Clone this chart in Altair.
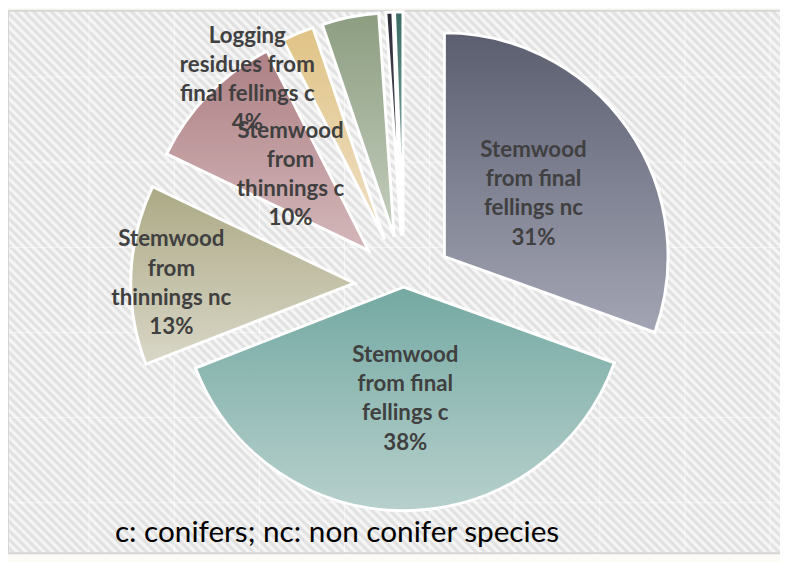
import altair as alt
import pandas as pd

# ---------------- data ----------------
categories = [
    "Stemwood from final fellings nc",
    "Stemwood from final fellings c",
    "Stemwood from thinnings nc",
    "Stemwood from thinnings c",
    "Logging residues from final fellings c",
    "Other A",
    "Other B",
    "Other C",
]
values = [30.5, 38.6, 13.0, 10.4, 2.3, 4.1, 0.5, 0.6]
label_texts = [
    "Stemwood\nfrom final\nfellings nc\n31%",
    "Stemwood\nfrom final\nfellings c\n38%",
    "Stemwood\nfrom\nthinnings nc\n13%",
    "Stemwood\nfrom\nthinnings  c\n10%",
    "Logging\nresidues from\nfinal fellings c\n4%",
    "",
    "",
    "",
]
footnote = "c: conifers; nc: non conifer species"

# ---------------- styles ----------------
W, H = 780, 554
CX, CY, R = 400, 277, 226
FRAME_B = 548
LH = 29.5
grad_top = ["#5a5e6f", "#74a9a2", "#aca985", "#ad8084", "#e0c385", "#8c9d80", "#2c2c3a", "#3b6b65"]
grad_bot = ["#a3a5b4", "#b7d0cd", "#d9d7c7", "#d4b7ba", "#efe0c6", "#c4cebe", "#5c5c6c", "#a5c2be"]
explode = {1: 2}          # default 50 px
label_r = {0: 110, 1: 113, 2: 185, 3: 110, 4: 213}
label_da = {2: -2.2, 4: -17.8}     # degrees

df = pd.DataFrame({"cat": categories, "value": values, "label": label_texts,
                   "order": list(range(len(categories)))})


def by_order(d, default):
    expr = str(default)
    for k, v in d.items():
        expr = f"datum.order == {k} ? {v} : ({expr})"
    return expr


base = (
    alt.Chart(df)
    .transform_window(cum="sum(value)", sort=[alt.SortField("order")], frame=[None, 0])
    .transform_joinaggregate(total="sum(value)")
    .transform_calculate(
        t0="2*PI*(datum.cum-datum.value)/datum.total",
        t1="2*PI*datum.cum/datum.total",
    )
    .transform_calculate(mid="(datum.t0+datum.t1)/2", d=by_order(explode, 50))
    .transform_calculate(
        ax=f"{CX}+datum.d*sin(datum.mid)",
        ay=f"{CY}-datum.d*cos(datum.mid)",
        lr=by_order(label_r, 113),
        la=f"datum.mid + PI/180*({by_order(label_da, 0)})",
        nl="length(split(datum.label, '\\n'))",
    )
    .transform_calculate(
        lx="datum.ax+datum.lr*sin(datum.la)",
        ly=f"datum.ay-datum.lr*cos(datum.la) - (datum.nl-1)*{LH}/2",
    )
)

# ---------------- background ----------------
frame_df = pd.DataFrame({"x": [0], "x2": [W + 10], "y": [0], "y2": [FRAME_B]})
frame_fill = alt.Chart(frame_df).mark_rect(fill="#f5f5f5").encode(
    x=alt.X("x:Q", scale=None), x2="x2:Q", y=alt.Y("y:Q", scale=None), y2="y2:Q")
frame_line = alt.Chart(frame_df).mark_rect(fill="transparent", stroke="#d6d6d6", strokeWidth=2).encode(
    x=alt.X("x:Q", scale=None), x2="x2:Q", y=alt.Y("y:Q", scale=None), y2="y2:Q")

stripes = (
    alt.Chart(alt.sequence(start=-560, stop=W + 10, step=9, as_="k"))
    .transform_calculate(x2=f"datum.k+{FRAME_B}", y0="0", y2=str(FRAME_B))
    .mark_rule(color="#e2e2e2", strokeWidth=3.2, clip=True)
    .encode(x=alt.X("k:Q", scale=None), x2="x2:Q", y=alt.Y("y0:Q", scale=None), y2="y2:Q")
)
vgrid = (
    alt.Chart(alt.sequence(start=82, stop=W, step=86, as_="k"))
    .transform_calculate(y0="0", y2=str(FRAME_B))
    .mark_rule(color="white", strokeWidth=1, opacity=0.55)
    .encode(x=alt.X("k:Q", scale=None), y=alt.Y("y0:Q", scale=None), y2="y2:Q")
)
hgrid = (
    alt.Chart(alt.sequence(start=67, stop=FRAME_B, step=86, as_="k"))
    .transform_calculate(x0="0", x2=str(W))
    .mark_rule(color="white", strokeWidth=1, opacity=0.55)
    .encode(y=alt.Y("k:Q", scale=None), x=alt.X("x0:Q", scale=None), x2="x2:Q")
)

# ---------------- slices ----------------
slices = []
for i in range(len(categories)):
    g = alt.Gradient(
        gradient="linear", x1=0, y1=0, x2=0, y2=1,
        stops=[alt.GradientStop(color=grad_top[i], offset=0),
               alt.GradientStop(color=grad_bot[i], offset=1)],
    )
    slices.append(
        base.transform_filter(alt.datum.order == i)
        .mark_arc(radius=R, fill=g, stroke="white", strokeWidth=3)
        .encode(
            theta=alt.Theta("t0:Q", scale=None, stack=False),
            theta2="t1:Q",
            x=alt.X("ax:Q", scale=None),
            y=alt.Y("ay:Q", scale=None),
            tooltip=["cat:N", "value:Q"],
        )
    )

labels = base.mark_text(
    font="Lato", fontSize=22.5, fontWeight="bold", color="#404040",
    lineBreak="\n", lineHeight=LH, align="center", baseline="middle",
).encode(x=alt.X("lx:Q", scale=None), y=alt.Y("ly:Q", scale=None), text="label:N")

foot = alt.Chart(pd.DataFrame({"t": [footnote]})).mark_text(
    font="Lato", fontSize=30, color="#000000", align="left", baseline="middle"
).encode(x=alt.value(108), y=alt.value(528), text="t:N")

chart = (
    alt.layer(frame_fill, stripes, vgrid, hgrid, frame_line, *slices, labels, foot)
    .properties(width=W, height=H, background="#fcfbf6", padding=0, autosize="none")
    .configure_view(stroke=None)
)

chart.save("out.html", embed_options={"renderer": "svg", "actions": False})
